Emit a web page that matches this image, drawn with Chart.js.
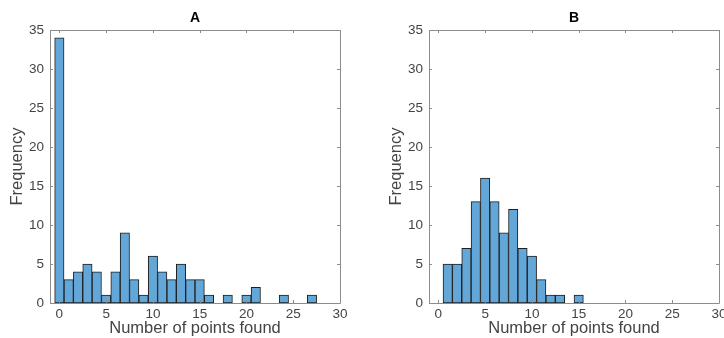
<!DOCTYPE html>
<html>
<head>
<meta charset="utf-8">
<script src="https://cdn.jsdelivr.net/npm/chart.js@4"></script>
<style>
  html, body { margin: 0; padding: 0; background: #fff; overflow: hidden; width: 724px; height: 338px; }
  .panel { position: absolute; top: 0; width: 362px; height: 338px; }
</style>
</head>
<body>
<div class="panel" style="left:0"><canvas id="chartA" width="362" height="338"></canvas></div>
<div class="panel" style="left:379px"><canvas id="chartB" width="362" height="338"></canvas></div>
<script>
// histogram A: bin centres and counts
const binsA = [0, 1, 2, 3, 4, 5, 6, 7, 8, 9, 10, 11, 12, 13, 14, 15, 16, 17, 18, 19, 20, 21, 22, 23, 24, 25, 26, 27];
const countsA = [34, 3, 4, 5, 4, 1, 4, 9, 3, 1, 6, 4, 3, 5, 3, 3, 1, 0, 1, 0, 1, 2, 0, 0, 1, 0, 0, 1];

// histogram B
const binsB = [1, 2, 3, 4, 5, 6, 7, 8, 9, 10, 11, 12, 13, 14, 15];
const countsB = [5, 5, 7, 13, 16, 13, 9, 12, 7, 6, 3, 1, 1, 0, 1];

const xTicks = [0, 5, 10, 15, 20, 25, 30];
const yTicks = [0, 5, 10, 15, 20, 25, 30, 35];

const textGrey = '#444';
const boxGrey = '#8c8c8c';

// matlab style box with inward ticks
const boxTicks = {
  id: 'boxTicks',
  afterDatasetsDraw(chart) {
    const { ctx, chartArea: a, scales: { x, y } } = chart;
    ctx.save();
    ctx.strokeStyle = boxGrey;
    ctx.lineWidth = 1;
    ctx.beginPath();
    ctx.rect(Math.round(a.left) + 0.5, Math.round(a.top) + 0.5,
      Math.round(a.right) - Math.round(a.left), Math.round(a.bottom) - Math.round(a.top));
    x.ticks.forEach(t => {
      const px = Math.round(x.getPixelForValue(t.value)) + 0.5;
      ctx.moveTo(px, a.bottom); ctx.lineTo(px, a.bottom - 3);
      ctx.moveTo(px, a.top); ctx.lineTo(px, a.top + 3);
    });
    y.ticks.forEach(t => {
      const py = Math.round(y.getPixelForValue(t.value)) + 0.5;
      ctx.moveTo(a.left, py); ctx.lineTo(a.left + 3, py);
      ctx.moveTo(a.right, py); ctx.lineTo(a.right - 3, py);
    });
    ctx.stroke();
    ctx.restore();
  }
};

function makeHist(id, title, bins, counts) {
  new Chart(document.getElementById(id), {
    type: 'bar',
    data: {
      datasets: [{
        data: bins.map((b, i) => ({ x: b, y: counts[i] })),
        backgroundColor: 'rgb(99,167,217)',
        borderColor: '#1e1e1e',
        borderWidth: 1,
        borderSkipped: false,
        barPercentage: 1,
        categoryPercentage: 1
      }]
    },
    options: {
      responsive: false,
      animation: false,
      layout: { padding: { top: 0, right: 22, bottom: 0, left: 0 } },
      plugins: {
        legend: { display: false },
        tooltip: { enabled: false },
        title: {
          display: true,
          text: title,
          color: '#000',
          fullSize: false,
          font: { family: 'Liberation Sans', size: 14, weight: 'bold' },
          padding: { top: 9.6, bottom: 3.6 }
        }
      },
      scales: {
        x: {
          type: 'linear',
          offset: false,
          min: -1,
          max: 30,
          afterBuildTicks: s => { s.ticks = xTicks.map(v => ({ value: v })); },
          afterFit: s => { s.height = 35; },
          grid: { display: false, drawTicks: false },
          border: { display: false },
          ticks: { color: textGrey, padding: 3, maxRotation: 0, font: { family: 'Liberation Sans', size: 13.5 } },
          title: {
            display: true,
            text: 'Number of points found',
            color: textGrey,
            padding: { top: 0, bottom: 0 },
            font: { family: 'Liberation Sans', size: 16.5 }
          }
        },
        y: {
          min: 0,
          max: 35,
          afterBuildTicks: s => { s.ticks = yTicks.map(v => ({ value: v })); },
          afterFit: s => { s.width = 50; },
          grid: { display: false, drawTicks: false },
          border: { display: false },
          ticks: { color: textGrey, padding: 6, font: { family: 'Liberation Sans', size: 13.5 } },
          title: {
            display: true,
            text: 'Frequency',
            color: textGrey,
            padding: { top: 8, bottom: 0 },
            font: { family: 'Liberation Sans', size: 16.5 }
          }
        }
      }
    },
    plugins: [boxTicks]
  });
}

makeHist('chartA', 'A', binsA, countsA);
makeHist('chartB', 'B', binsB, countsB);
</script>
</body>
</html>
